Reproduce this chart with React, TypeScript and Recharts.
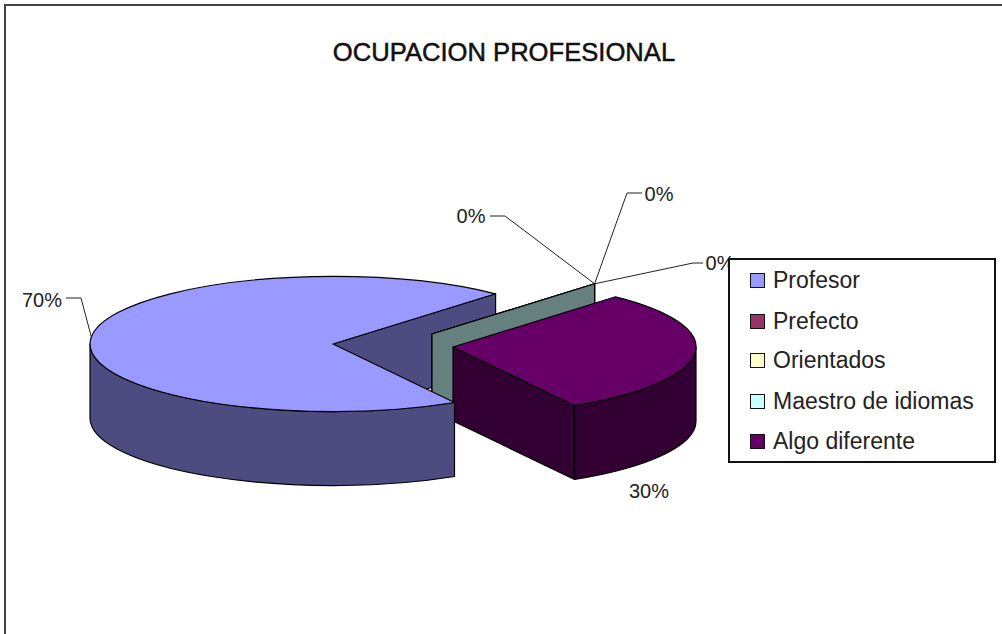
import { PieChart, Pie, Legend } from "recharts";

const categories = ["Profesor", "Prefecto", "Orientados", "Maestro de idiomas", "Algo diferente"];
const values = [70, 0, 0, 0, 30];
const topColors = ["#9999FF", "#993366", "#FFFFCC", "#CCFFFF", "#660066"];
const sideColors = ["#4C4C80", "#4C1A33", "#808066", "#668080", "#330033"];

const tableData = categories.map((name, i) => ({
  name,
  value: values[i],
  fill: topColors[i],
  side: sideColors[i],
}));

// How the flat pie gets squashed into the old Excel 3-D look
const CX = 333;
const CY = 344;
const RADIUS = 243;
const SQUASH = 0.278;
const DEPTH = 74;
const EXPLODE = [[0, 0], [99, -10], [99, -10], [99, -10], [120, 3]];

// label placement: text centre + leader elbow (null = no leader)
const LABEL_POS = [
  { x: 42, y: 300, elbow: [[81, 298], [66, 298]] },
  { x: 471, y: 216, elbow: [[505, 216], [490, 216]] },
  { x: 659, y: 194, elbow: [[627, 193], [642, 193]] },
  { x: 720, y: 263, elbow: [[693, 263], [703, 263]] },
  { x: 649, y: 491, elbow: null },
];
const LEGEND_ROW_TOPS = [10, 51, 90, 131, 171];

const FONT = "'Liberation Sans', Arial, sans-serif";
const rad = (a: number) => (a * Math.PI) / 180;

function rimPoint(cx: number, cy: number, r: number, angle: number) {
  return [cx + r * Math.cos(rad(angle)), cy - r * SQUASH * Math.sin(rad(angle))];
}

// outer wall for the part of the slice that faces the viewer (lower half of ellipse)
function wallPath(cx: number, cy: number, r: number, start: number, end: number) {
  // normalise so we walk clockwise from hi to lo inside [-180, 0]
  const segs: string[] = [];
  for (let turn = -720; turn <= 360; turn += 360) {
    const hi = Math.min(start, turn);
    const lo = Math.max(end, turn - 180);
    if (hi <= lo) continue;
    const [x0, y0] = rimPoint(cx, cy, r, hi);
    const [x1, y1] = rimPoint(cx, cy, r, lo);
    const ry = r * SQUASH;
    segs.push(
      `M${x0},${y0} A${r},${ry} 0 0 1 ${x1},${y1} L${x1},${y1 + DEPTH} A${r},${ry} 0 0 0 ${x0},${y0 + DEPTH} Z`
    );
  }
  return segs.join(" ");
}

function topPath(cx: number, cy: number, r: number, start: number, end: number) {
  const [x0, y0] = rimPoint(cx, cy, r, start);
  const [x1, y1] = rimPoint(cx, cy, r, end);
  const large = Math.abs(start - end) > 180 ? 1 : 0;
  return `M${cx},${cy} L${x0},${y0} A${r},${r * SQUASH} 0 ${large} 1 ${x1},${y1} Z`;
}

// cut face along a radius, only if it looks towards the viewer
function faces(cx: number, cy: number, r: number, start: number, end: number) {
  const out: string[] = [];
  [[start, start + 90], [end, end - 90]].forEach(([angle, normal]) => {
    if (Math.sin(rad(normal)) >= 0) return;
    const [x, y] = rimPoint(cx, cy, r, angle);
    out.push(`M${cx},${cy} L${x},${y} L${x},${y + DEPTH} L${cx},${cy + DEPTH} Z`);
  });
  return out;
}

function Slice3D(props: any, layer: "back" | "front") {
  const { cx, cy, outerRadius, startAngle, endAngle, fill, side, index } = props;
  const [dx, dy] = EXPLODE[index];
  const px = cx + dx;
  const py = cy + dy;
  const line = { stroke: "#000", strokeWidth: 1.2, strokeLinejoin: "round" as const };
  const isFront = index === 0;
  const showFaces = layer === "back";
  const showBody = isFront ? layer === "front" : layer === "back";
  return (
    <g>
      {showFaces && faces(px, py, outerRadius, startAngle, endAngle).map((d, i) => (
        <path key={i} d={d} fill={side} {...line} />
      ))}
      {showBody && values[index] > 0 && (
        <>
          <path d={wallPath(px, py, outerRadius, startAngle, endAngle)} fill={side} {...line} />
          <path d={topPath(px, py, outerRadius, startAngle, endAngle)} fill={fill} {...line} />
        </>
      )}
    </g>
  );
}

function renderLabel(props: any) {
  const { cx, cy, outerRadius, midAngle, percent, index } = props;
  const pos = LABEL_POS[index];
  const [dx, dy] = EXPLODE[index];
  const [ax, ay] = rimPoint(cx + dx, cy + dy, outerRadius, midAngle);
  return (
    <g key={index}>
      {pos.elbow && (
        <polyline
          points={`${ax},${ay} ${pos.elbow[0].join(",")} ${pos.elbow[1].join(",")}`}
          fill="none"
          stroke="#222"
          strokeWidth={1}
        />
      )}
      <text x={pos.x} y={pos.y} textAnchor="middle" dominantBaseline="central" fontFamily={FONT} fontSize={20} fill="#222">
        {`${Math.round(percent * 100)}%`}
      </text>
    </g>
  );
}

function ChartLegend({ payload }: any) {
  // Pie is drawn twice for the layering, so pick each category only once, in data order
  const items = categories.map(name => (payload || []).find((p: any) => p.value === name)).filter(Boolean);
  return (
    <div style={{ width: 268, height: 205, boxSizing: "border-box", border: "2px solid #111", background: "#fff", position: "relative" }}>
      {items.map((item: any, i: number) => (
        <div
          key={item.value}
          style={{ position: "absolute", left: 20, top: LEGEND_ROW_TOPS[i] - 2, display: "flex", alignItems: "center", height: 24, fontFamily: FONT, fontSize: 23, color: "#222", whiteSpace: "nowrap" }}
        >
          <span style={{ width: 15, height: 15, boxSizing: "border-box", border: "1.5px solid #111", background: item.color, marginRight: 8 }} />
          {item.value}
        </div>
      ))}
    </div>
  );
}

export default function App() {
  return (
    <div style={{ position: "absolute", left: 0, top: 0, width: 1002, height: 634, background: "#fff" }}>
      <PieChart width={1002} height={634} margin={{ top: 0, right: 0, bottom: 0, left: 0 }}>
        <path d="M1002,5 L5,5 L5,634" fill="none" stroke="#444" strokeWidth={2} />
        <text x={504} y={52} textAnchor="middle" dominantBaseline="central" fontFamily={FONT} fontSize={25.6} fill="#111" stroke="#111" strokeWidth={0.5}>
          OCUPACION PROFESIONAL
        </text>
        <Pie
          data={tableData}
          dataKey="value"
          nameKey="name"
          cx={CX}
          cy={CY}
          outerRadius={RADIUS}
          startAngle={-60}
          endAngle={-420}
          legendType="none"
          isAnimationActive={false}
          shape={(p: any) => Slice3D(p, "back")}
        />
        <Pie
          data={tableData}
          dataKey="value"
          nameKey="name"
          cx={CX}
          cy={CY}
          outerRadius={RADIUS}
          startAngle={-60}
          endAngle={-420}
          isAnimationActive={false}
          shape={(p: any) => Slice3D(p, "front")}
          label={renderLabel}
          labelLine={false}
        />
        <Legend
          layout="vertical"
          align="right"
          verticalAlign="top"
          itemSorter={null}
          content={<ChartLegend />}
          wrapperStyle={{ position: "absolute", left: 728, top: 258, right: "auto", bottom: "auto", width: 268, height: 205 }}
        />
      </PieChart>
    </div>
  );
}
